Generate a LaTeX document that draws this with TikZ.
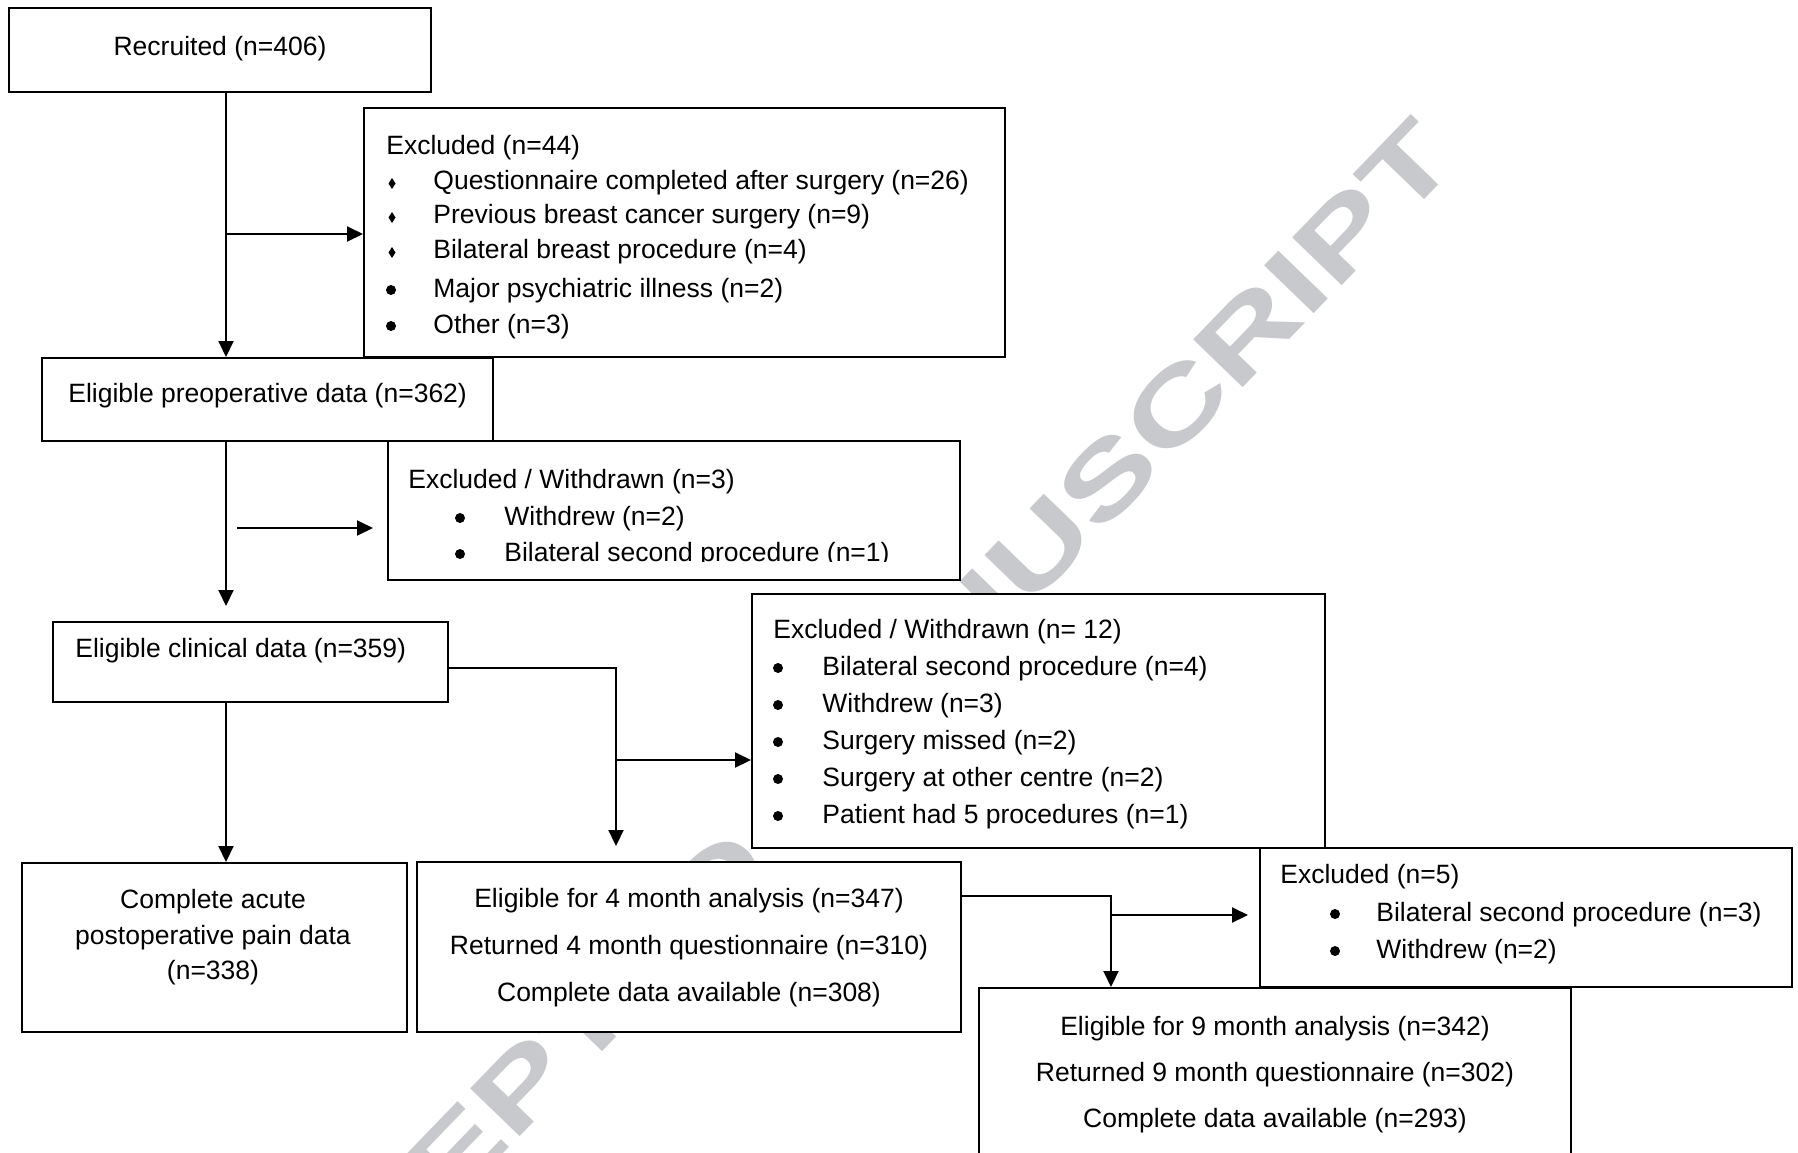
\documentclass[tikz,border=0pt]{standalone}
\usepackage{fontspec}
\setmainfont{Liberation Sans}
\usepackage{graphicx}
\usetikzlibrary{arrows.meta,fit}
\definecolor{wmgray}{RGB}{200,201,204}
\newcommand\diabul[2]{\fill (#1-3.5,#2) -- (#1,#2-5.5) -- (#1+3.5,#2) -- (#1,#2+5.5) -- cycle;}
\newcommand\dotbul[2]{\fill (#1,#2) circle[radius=2.5pt];}
\begin{document}
\begin{tikzpicture}[x=0.5pt,y=-0.5pt,
  box/.style={draw=black,fill=white,line width=1pt,inner sep=0pt},
  txt/.style={inner sep=0pt,font=\fontsize{13.25pt}{16pt}\selectfont,anchor=base west},
  ctxt/.style={txt,anchor=base},
  conn/.style={line width=1pt},
  arr/.style={conn,-{Triangle[length=8pt,width=7.5pt]}},
  wm/.style={inner sep=0pt,text=wmgray,font=\fontsize{50pt}{60pt}\selectfont\bfseries}]
\path[use as bounding box] (0,0) rectangle (1798,1152);
\clip (0,0) rectangle (1798,1152);
\fill[white] (0,0) rectangle (1798,1152);
% watermark
\node[wm,rotate=46] (wm) at (823,773) {\scalebox{1.42}[1]{ACCEPTED MANUSCRIPT}};
% boxes
\node[box,fit={(9,8) (431,92)}] (b1) {};
\node[box,fit={(364,108) (1005,357)}] (e1) {};
\node[box,fit={(42,358) (493,441)}] (b2) {};
\node[box,fit={(388,441) (960,580)}] (e2) {};
\node[box,fit={(53,622) (448,702)}] (b3) {};
\node[box,fit={(752,594) (1325,848)}] (e3) {};
\node[box,fit={(22,863) (407,1032)}] (b4) {};
\node[box,fit={(417,862) (961,1032)}] (b5) {};
\node[box,fit={(1260,848) (1792,987)}] (e4) {};
\node[box,fit={(979,988) (1571,1180)}] (b6) {};
% texts
\node[ctxt] (t1) at (220,55) {Recruited (n=406)};
\node[txt] (t2) at (386,154) {Excluded (n=44)};
\node[txt] (t3) at (433,189) {Questionnaire completed after surgery (n=26)};
\node[txt] (t4) at (433,223) {Previous breast cancer surgery (n=9)};
\node[txt] (t5) at (433,258) {Bilateral breast procedure (n=4)};
\node[txt] (t6) at (433,297) {Major psychiatric illness (n=2)};
\node[txt] (t7) at (433,333) {Other (n=3)};
\diabul{392}{183.5}
\diabul{392}{217.5}
\diabul{392}{252.5}
\dotbul{391}{290}
\dotbul{391}{326}
\node[txt] (t8) at (68,402) {Eligible preoperative data (n=362)};
\node[txt] (t9) at (408,488) {Excluded / Withdrawn (n=3)};
\node[txt] (t10) at (504,525) {Withdrew (n=2)};
\dotbul{460}{518}
\begin{scope}
\clip (388,441) rectangle (960,561);
\node[txt] (t11) at (504,561) {Bilateral second procedure (n=1)};
\dotbul{460}{554}
\end{scope}
\node[txt] (t12) at (75,657) {Eligible clinical data (n=359)};
\node[txt] (t13) at (773,638) {Excluded / Withdrawn (n= 12)};
\node[txt] (t14) at (822,675) {Bilateral second procedure (n=4)};
\node[txt] (t15) at (822,712) {Withdrew (n=3)};
\node[txt] (t16) at (822,749) {Surgery missed (n=2)};
\node[txt] (t17) at (822,786) {Surgery at other centre (n=2)};
\node[txt] (t18) at (822,823) {Patient had 5 procedures (n=1)};
\dotbul{778}{668}
\dotbul{778}{705}
\dotbul{778}{742}
\dotbul{778}{779}
\dotbul{778}{816}
\node[ctxt] (t19) at (213,908) {Complete acute};
\node[ctxt] (t20) at (213,944) {postoperative pain data};
\node[ctxt] (t21) at (213,979) {(n=338)};
\node[ctxt] (t22) at (689,907) {Eligible for 4 month analysis (n=347)};
\node[ctxt] (t23) at (689,954) {Returned 4 month questionnaire (n=310)};
\node[ctxt] (t24) at (689,1001) {Complete data available (n=308)};
\node[txt] (t25) at (1280,883) {Excluded (n=5)};
\node[txt] (t26) at (1376,921) {Bilateral second procedure (n=3)};
\node[txt] (t27) at (1376,958) {Withdrew (n=2)};
\dotbul{1335}{914}
\dotbul{1335}{951}
\node[ctxt] (t28) at (1275,1035) {Eligible for 9 month analysis (n=342)};
\node[ctxt] (t29) at (1275,1081) {Returned 9 month questionnaire (n=302)};
\node[ctxt] (t30) at (1275,1127) {Complete data available (n=293)};
% connectors
\coordinate (v1) at (226,0);
\coordinate (v2) at (616,0);
\coordinate (v3) at (1111,0);
\coordinate (h1) at (0,234);
\coordinate (h2) at (0,528);
\coordinate (h3) at (0,668);
\coordinate (h4) at (0,760);
\coordinate (h5) at (0,896);
\coordinate (h6) at (0,915);
\draw[arr] (b1.south -| v1) -- (b2.north -| v1);
\draw[arr] (v1 |- h1) -- (e1.west |- h1);
\draw[arr,shorten >=7.5pt] (b2.south -| v1) -- (b3.north -| v1);
\draw[arr,shorten <=5.5pt,shorten >=7pt] (v1 |- h2) -- (e2.west |- h2);
\draw[arr] (b3.south -| v1) -- (b4.north -| v1);
\draw[arr,shorten >=7.5pt] (b3.east |- h3) -| (b5.north -| v2);
\draw[arr] (v2 |- h4) -- (e3.west |- h4);
\draw[arr] (b5.east |- h5) -| (b6.north -| v3);
\draw[arr,shorten >=5.5pt] (v3 |- h6) -- (e4.west |- h6);
\end{tikzpicture}
\end{document}
